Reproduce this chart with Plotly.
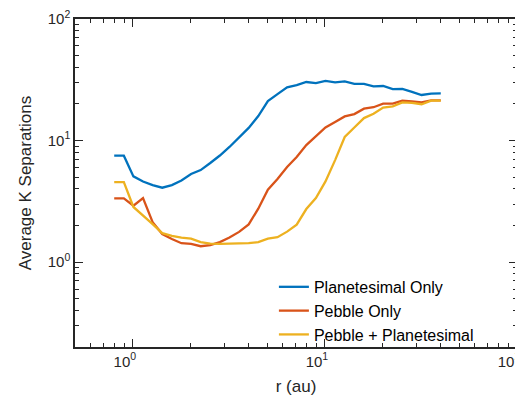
import plotly.graph_objects as go

r_au = [0.800, 0.898, 1.007, 1.130, 1.268, 1.423, 1.597, 1.791, 2.010, 2.255,
        2.530, 2.839, 3.185, 3.574, 4.010, 4.499, 5.048, 5.664, 6.355, 7.130,
        8.000, 8.976, 10.07, 11.30, 12.68, 14.23, 15.97, 17.91, 20.10, 22.55,
        25.30, 28.39, 31.85, 35.74, 40.10]

planetesimal_only = [7.5, 7.5, 5.07, 4.6, 4.3, 4.09, 4.3, 4.69, 5.3, 5.71,
                     6.53, 7.53, 8.85, 10.5, 12.7, 15.9, 21.1, 24.1, 27.4, 28.6,
                     30.3, 29.7, 30.9, 30.1, 30.7, 29.3, 29.3, 27.9, 28.1, 26.5,
                     26.6, 25.1, 23.7, 24.3, 24.4]

pebble_only = [3.34, 3.34, 2.91, 3.36, 2.13, 1.70, 1.55, 1.43, 1.41, 1.35,
               1.38, 1.46, 1.59, 1.77, 2.04, 2.75, 3.94, 4.82, 6.05, 7.31,
               9.18, 10.9, 12.8, 14.2, 15.8, 16.5, 18.3, 18.8, 20.1, 20.1,
               21.3, 21.0, 20.6, 21.4, 21.4]

pebble_plus_planetesimal = [4.55, 4.55, 2.84, 2.39, 2.05, 1.73, 1.64, 1.59, 1.56, 1.46,
                            1.42, 1.41, 1.41, 1.42, 1.43, 1.46, 1.56, 1.60, 1.78, 2.03,
                            2.73, 3.36, 4.61, 6.9, 10.7, 12.8, 15.3, 16.6, 18.7, 19.1,
                            20.6, 20.4, 19.9, 21.3, 21.3]

series_names = ["Planetesimal Only", "Pebble Only", "Pebble + Planetesimal"]
series_colors = ["#0072BD", "#D95319", "#EDB120"]
series_values = [planetesimal_only, pebble_only, pebble_plus_planetesimal]

tick_vals = [1, 10, 100]
tick_text = ["10<sup>0</sup>", "10<sup>1</sup>", "10<sup>2</sup>"]
minor_vals = [m * d for d in (0.1, 1, 10) for m in range(2, 10)]

fig = go.Figure()
for name, color, vals in zip(series_names, series_colors, series_values):
    fig.add_trace(go.Scatter(x=r_au, y=vals, mode="lines", name=name,
                             line=dict(color=color, width=2.3)))

axis_color = "#262626"
font_family = "Liberation Sans, Arial, sans-serif"
common_axis = dict(
    type="log", showgrid=False, zeroline=False, automargin=False,
    showline=True, linecolor=axis_color, linewidth=1.5, mirror="allticks",
    ticks="inside", ticklen=8, tickwidth=1.3, tickcolor=axis_color,
    tickmode="array", tickvals=tick_vals, ticktext=tick_text,
    ticklabeloverflow="allow",
    tickfont=dict(family=font_family, size=15, color=axis_color),
    minor=dict(ticks="inside", ticklen=4, tickwidth=1.1, tickcolor=axis_color,
               tickmode="array", tickvals=minor_vals, showgrid=False),
)

fig.update_layout(
    width=523, height=399,
    margin=dict(l=67, r=14, t=11, b=60),
    paper_bgcolor="white", plot_bgcolor="white",
    font=dict(family=font_family, color=axis_color),
    xaxis=dict(common_axis, range=[0.69897 - 1, 2], ticklabelshift=-8,
               title=dict(text="r (au)", font=dict(size=17, family=font_family, color=axis_color),
                          standoff=11)),
    yaxis=dict(common_axis, range=[0.30103 - 1, 2],
               title=dict(text="Average K Separations", font=dict(size=17, family=font_family, color=axis_color),
                          standoff=12)),
    legend=dict(x=0.45, y=0.235, xanchor="left", yanchor="top",
                bgcolor="rgba(255,255,255,0)", borderwidth=0,
                font=dict(family=font_family, size=16, color="#000000"),
                tracegroupgap=0, itemwidth=30),
    showlegend=True,
)

fig.write_html("out.html")
